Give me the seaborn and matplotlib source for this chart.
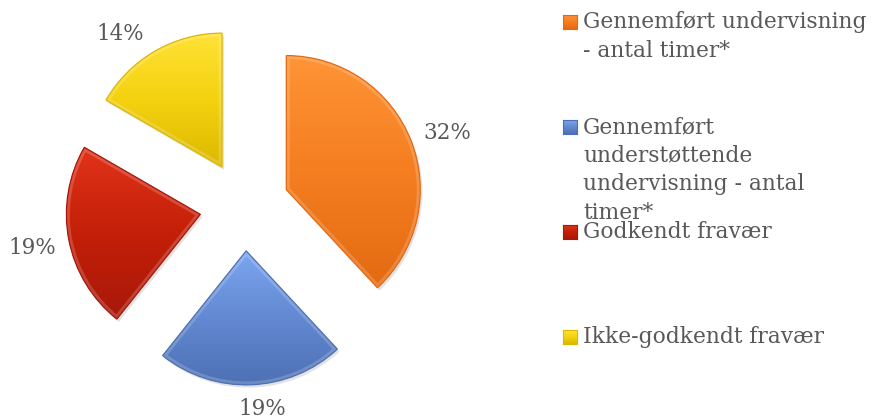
import numpy as np
import matplotlib
matplotlib.use("Agg")
import matplotlib.pyplot as plt
from matplotlib.colors import LinearSegmentedColormap
from matplotlib.patches import PathPatch
import matplotlib.patheffects as pe
import seaborn as sns

sns.set_theme(style="white")
plt.rcParams["font.family"] = ["DejaVu Serif"]

# Distribution of lesson hours and absence
categories = [
    "Gennemført undervisning\n- antal timer*",
    "Gennemført\nunderstøttende\nundervisning - antal\ntimer*",
    "Godkendt fravær",
    "Ikke-godkendt fravær",
]
values = [32, 19, 19, 14]
labels = ["32%", "19%", "19%", "14%"]

base_colors = ["#F47E20", "#6289D2", "#C41F08", "#F4D210"]
light_colors = ["#FF9436", "#7CA6F0", "#E0341A", "#FFE236"]
dark_colors = ["#E46A12", "#4E70B4", "#A8180A", "#DDB800"]
TEXT = "#595959"

W, H = 873, 419
fig = plt.figure(figsize=(W / 100, H / 100), dpi=100)
fig.patch.set_facecolor("white")

# Axes covering the whole figure; pie centre at pixel (244.5, 206), radius 134 px
R = 134.0
cx, cy = 244.5, 206.0
ax = fig.add_axes([0, 0, 1, 1])

wedges, _, autotexts = ax.pie(
    values,
    colors=base_colors,
    startangle=90,
    counterclock=False,
    explode=[0.335] * len(values),
    radius=1.0,
    autopct="%1.0f%%",
    pctdistance=1.26,
    wedgeprops=dict(linewidth=0),
    textprops=dict(color=TEXT, fontsize=15.5),
)

# Shaded fill for each wedge, clipped to the wedge outline, with a soft shadow
for w, lc, bc, dc in zip(wedges, light_colors, base_colors, dark_colors):
    w.set_path_effects([pe.SimplePatchShadow(offset=(1.5, -2), alpha=0.22,
                                             shadow_rgbFace="#808080"),
                        pe.Normal()])
    cmap = LinearSegmentedColormap.from_list("g", [lc, bc, dc])
    ext = w.get_path().get_extents()
    grad = np.linspace(0, 1, 256).reshape(-1, 1)
    im = ax.imshow(
        grad,
        cmap=cmap,
        extent=[ext.x0, ext.x1, ext.y0, ext.y1],
        aspect="auto",
        zorder=w.get_zorder() + 0.1,
        interpolation="bilinear",
    )
    im.set_clip_path(w)
    # bevel highlight just inside the edge
    glow = PathPatch(w.get_path(), fill=False, edgecolor="white", linewidth=5,
                     alpha=0.18, zorder=w.get_zorder() + 0.2)
    ax.add_patch(glow)
    glow.set_clip_path(w)
    outline = PathPatch(w.get_path(), fill=False, edgecolor=dc, linewidth=0.9,
                        zorder=w.get_zorder() + 0.3)
    ax.add_patch(outline)

# Percentage labels show the stated values; small nudges (px, right/down)
nudges = [(4, 5), (10, 1), (-2, 2), (-17, 13)]
for t, lab, (dx, dy) in zip(autotexts, labels, nudges):
    t.set_text(lab)
    t.set_zorder(5)
    x, y = t.get_position()
    t.set_position((x + dx / R, y - dy / R))
# The bottom label sits a little closer to its wedge
theta = np.deg2rad((wedges[1].theta1 + wedges[1].theta2) / 2)
c = wedges[1].center
autotexts[1].set_position((c[0] + 1.17 * np.cos(theta) + nudges[1][0] / R,
                           c[1] + 1.17 * np.sin(theta) - nudges[1][1] / R))

ax.set_xlim(-cx / R, (W - cx) / R)
ax.set_ylim(-(H - cy) / R, cy / R)
ax.set_aspect("auto")
ax.axis("off")

# Legend drawn as squares with wrapped labels
legend_y = [22, 127, 232, 337]
fs = 15.7
for lab, y, lc, bc, dc in zip(categories, legend_y, light_colors, base_colors, dark_colors):
    x0, x1 = 563 / W, 577 / W
    y0, y1 = 1 - (y + 7) / H, 1 - (y - 7) / H
    lax = fig.add_axes([x0, y0, x1 - x0, y1 - y0])
    cmap = LinearSegmentedColormap.from_list("g", [lc, bc, dc])
    lax.imshow(np.linspace(0, 1, 32).reshape(-1, 1), cmap=cmap, aspect="auto")
    for s in lax.spines.values():
        s.set_color(dc)
        s.set_linewidth(0.8)
    lax.set_xticks([])
    lax.set_yticks([])
    fig.text(583 / W, 1 - (y - 11) / H, lab, fontsize=fs, color=TEXT,
             va="top", ha="left", linespacing=1.39)

fig.savefig("out.png", dpi=100, facecolor="white")
